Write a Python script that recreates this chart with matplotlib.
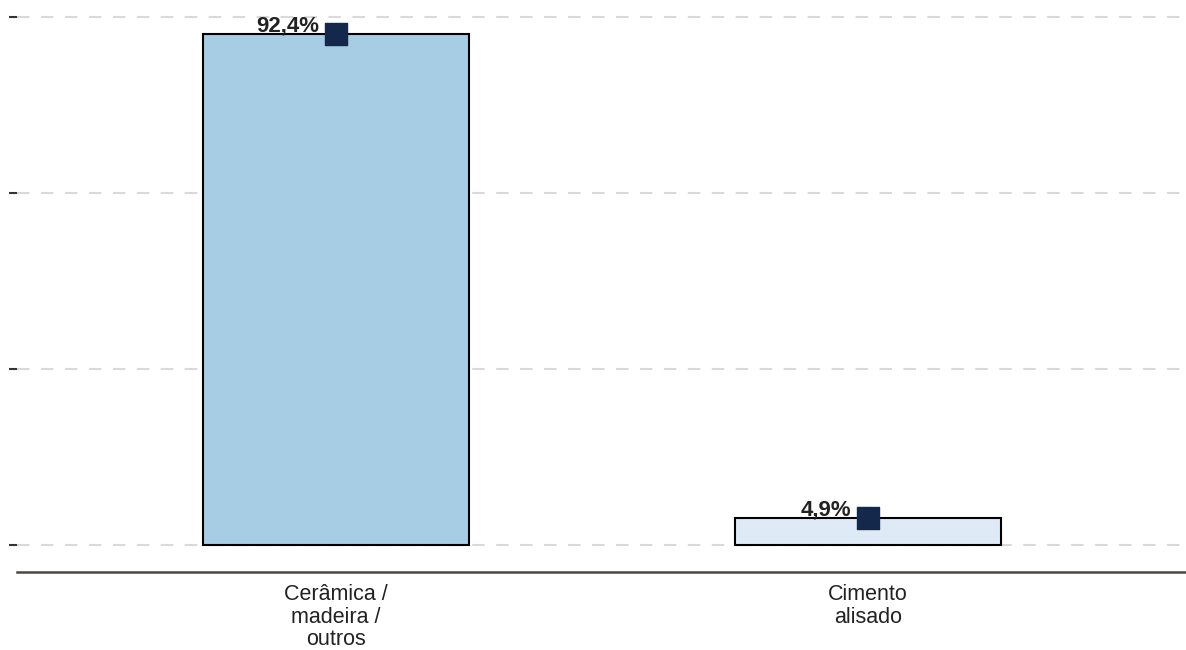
import numpy as np
import matplotlib.pyplot as plt

plt.rcParams['font.family'] = ['Liberation Sans', 'DejaVu Sans']

categorias = ["Cerâmica /\nmadeira /\noutros", "Cimento\nalisado"]
valores = [92.4, 4.9]
rotulos = ["92,4%", "4,9%"]
cores = ["#a6cde3", "#deebf7"]
grade = [0, 31.82, 63.65, 95.47]


def main():
    fig = plt.figure(figsize=(11.86, 6.5), dpi=100)
    ax = fig.add_axes([17 / 1186, 1 - 572 / 650, 1 - 17 / 1186, 572 / 650])

    x = np.arange(len(categorias))
    ax.bar(x, valores, width=0.5, color=cores, edgecolor="black", linewidth=1.5, zorder=3)
    ax.scatter(x, valores, marker="s", s=230, color="#14284b", zorder=4)

    for xi, v, txt in zip(x, valores, rotulos):
        ax.annotate(txt, (xi, v), xytext=(-12, 2), textcoords="offset points",
                    ha="right", va="baseline", fontsize=16, fontweight="bold",
                    color="#222222", zorder=5)

    ax.set_xlim(-0.6, 1.598)
    ax.set_ylim(-4.88, 98.55)
    ax.set_yticks(grade)
    ax.set_yticklabels([])
    ax.yaxis.grid(True, color="#d9d9d9", linestyle=(0, (6, 5.5)), linewidth=1.5, zorder=0)
    ax.tick_params(axis="y", length=6, width=1.5, color="#333333")

    ax.set_xticks(x)
    ax.set_xticklabels(categorias, fontsize=15.5, color="#222222", linespacing=1.08)
    ax.tick_params(axis="x", length=0, pad=9)

    for lado in ["top", "right", "left"]:
        ax.spines[lado].set_visible(False)
    ax.spines["bottom"].set_color("#4d4640")
    ax.spines["bottom"].set_linewidth(1.8)

    fig.savefig("out.png", dpi=100)


if __name__ == "__main__":
    main()
